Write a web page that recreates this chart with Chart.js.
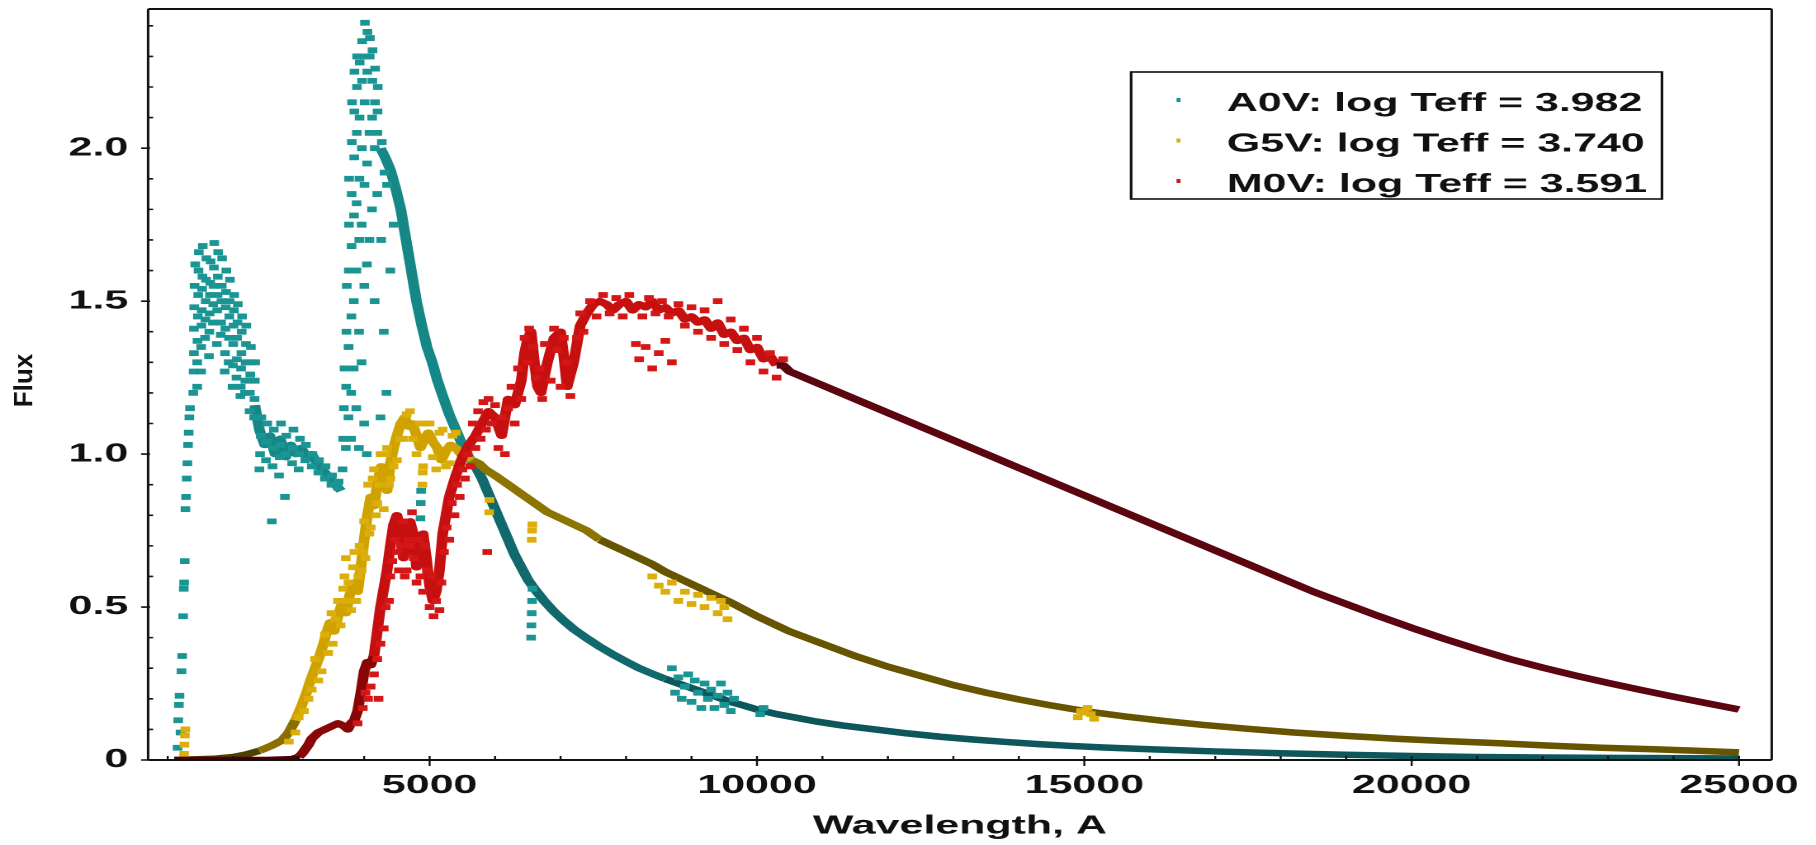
<!DOCTYPE html>
<html>
<head>
<meta charset="utf-8">
<title>Stellar spectra: A0V, G5V, M0V</title>
<script src="https://cdn.jsdelivr.net/npm/chart.js@4.4.1/dist/chart.umd.min.js"></script>
<style>
  html, body { margin: 0; padding: 0; background: #fff; overflow: hidden; }
  /* the chart is laid out 1100px wide and stretched sideways to 1816px */
  #wrap { width: 1100px; height: 845px; transform: scaleX(1.650909); transform-origin: 0 0; }
</style>
</head>
<body>
<div id="wrap"><canvas id="chart"></canvas></div>
<script>
const SX = 1816 / 1100;

// axes
const xTicks = [5000, 10000, 15000, 20000, 25000];
const yTicks = [0, 0.5, 1.0, 1.5, 2.0];
const xTitle = 'Wavelength, A';
const yTitle = 'Flux';
const starLabels = ['A0V: log Teff = 3.982', 'G5V: log Teff = 3.740', 'M0V: log Teff = 3.591'];

// A0V: dense trace of the continuum (null breaks the line over the Balmer jump)
const a0vTrace = [
  [2330,1.16],[2400,1.08],[2480,1.03],[2560,1.06],[2640,1.0],[2720,1.05],[2800,0.99],[2880,1.03],
  [2960,1.0],[3040,1.02],[3120,0.99],[3200,1.0],[3280,0.97],[3360,0.95],[3440,0.93],[3520,0.91],
  [3600,0.89],[3650,0.88],[3660,null],
  [4250,2.0],[4320,1.97],[4400,1.93],[4480,1.87],[4560,1.8],[4640,1.7],[4720,1.6],[4800,1.5],
  [4880,1.42],[4960,1.35],[5040,1.3],[5120,1.24],[5200,1.19],[5300,1.13],[5400,1.08],[5500,1.03],
  [5600,0.99],[5700,0.96],[5800,0.92],[5900,0.87],[6000,0.82],[6100,0.77],[6200,0.72],[6300,0.67],
  [6400,0.63],[6500,0.59],[6600,0.56],[6750,0.52],[6900,0.485],[7050,0.455],[7200,0.428],[7400,0.398],
  [7600,0.37],[7800,0.345],[8000,0.322],[8200,0.3],[8400,0.282],[8600,0.265],[8800,0.25],[9000,0.235],
  [9200,0.22],[9400,0.205],[9600,0.19],[9800,0.178],[10000,0.165],[10300,0.15],[10600,0.138],
  [10900,0.126],[11300,0.113],[11800,0.1],[12300,0.087],[12800,0.076],[13300,0.067],[13800,0.059],
  [14300,0.052],[14800,0.046],[15300,0.041],[16000,0.035],[17000,0.028],[18000,0.022],[19000,0.017],
  [20000,0.013],[21000,0.01],[22000,0.008],[23000,0.007],[24000,0.006],[25000,0.005]
];

// A0V: scattered samples (UV rise, UV bump, Balmer lines)
const a0vPoints = [
  [1150,0.04],[1160,0.13],[1170,0.18],[1180,0.21],[1195,0.09],[1210,0.29],[1220,0.34],[1235,0.47],
  [1245,0.56],[1250,0.58],[1260,0.65],[1270,0.82],[1280,0.86],[1290,0.92],[1300,0.97],[1310,1.03],
  [1320,1.07],[1330,1.12],[1340,1.15],
  [1390,1.2],[1395,1.27],[1400,1.33],[1400,1.41],[1405,1.48],[1410,1.55],[1420,1.62],
  [1450,1.22],[1450,1.3],[1455,1.37],[1460,1.45],[1465,1.52],[1470,1.6],[1475,1.66],
  [1510,1.27],[1510,1.35],[1515,1.42],[1520,1.47],[1525,1.54],[1530,1.58],[1535,1.68],
  [1570,1.38],[1575,1.44],[1580,1.5],[1585,1.57],[1590,1.64],
  [1630,1.32],[1635,1.4],[1640,1.46],[1645,1.52],[1650,1.56],[1655,1.63],
  [1690,1.43],[1695,1.49],[1700,1.55],[1705,1.61],[1710,1.69],
  [1750,1.36],[1755,1.47],[1760,1.52],[1765,1.58],[1770,1.66],
  [1810,1.39],[1815,1.43],[1820,1.5],[1825,1.55],[1830,1.64],
  [1870,1.27],[1875,1.33],[1880,1.41],[1885,1.48],[1890,1.53],[1895,1.6],
  [1930,1.3],[1935,1.38],[1940,1.45],[1945,1.5],[1950,1.57],
  [1990,1.22],[1995,1.29],[2000,1.36],[2005,1.42],[2010,1.47],[2015,1.52],
  [2050,1.25],[2055,1.31],[2060,1.38],[2065,1.43],[2070,1.49],
  [2110,1.19],[2115,1.22],[2120,1.28],[2125,1.33],[2130,1.4],[2135,1.45],
  [2180,1.2],[2185,1.24],[2190,1.3],[2195,1.36],[2200,1.42],
  [2250,1.14],[2255,1.2],[2260,1.26],[2265,1.3],[2270,1.35],
  [2320,1.12],[2325,1.18],[2330,1.24],[2335,1.3],
  [2400,0.95],[2410,1.0],[2420,1.06],[2430,1.12],[2500,0.98],[2510,1.04],[2520,1.1],
  [2590,0.78],[2600,0.96],[2610,1.02],[2620,1.08],[2700,0.93],[2710,0.99],[2720,1.03],[2730,1.1],
  [2790,0.86],[2800,1.0],[2810,1.06],[2900,0.97],[2910,1.02],[2920,1.08],[3000,0.95],[3010,1.0],
  [3020,1.05],[3100,0.98],[3110,1.03],[3200,0.96],[3210,1.0],[3300,0.94],[3310,0.98],[3400,0.92],
  [3410,0.96],[3500,0.9],[3510,0.93],[3600,0.89],[3610,0.91],
  [3670,0.95],[3680,1.05],[3690,1.15],[3700,1.28],[3720,1.02],[3725,1.22],[3730,1.4],[3735,1.55],
  [3760,1.12],[3762,1.35],[3765,1.6],[3768,1.75],[3770,1.9],
  [3800,1.05],[3802,1.2],[3805,1.45],[3808,1.68],[3810,1.85],[3812,2.02],[3815,2.15],
  [3840,1.28],[3842,1.5],[3845,1.78],[3848,1.97],[3850,2.12],[3852,2.25],
  [3880,1.15],[3882,1.6],[3885,1.82],[3888,2.05],[3890,2.2],[3892,2.3],
  [3920,1.02],[3922,1.4],[3925,1.7],[3928,1.9],[3930,2.1],[3932,2.28],
  [3960,1.3],[3962,1.75],[3965,2.0],[3968,2.22],[3970,2.35],
  [4000,1.1],[4002,1.55],[4005,1.88],[4008,2.15],[4010,2.3],[4012,2.41],
  [4040,1.0],[4042,1.62],[4045,1.95],[4048,2.25],[4050,2.38],
  [4080,1.7],[4082,2.05],[4085,2.3],[4088,2.36],[4120,1.8],[4122,2.1],[4125,2.22],[4128,2.32],
  [4160,1.5],[4162,2.0],[4165,2.15],[4168,2.26],[4200,1.85],[4202,2.05],[4205,2.12],[4208,2.2],
  [4250,1.12],[4260,1.7],[4270,2.02],[4300,1.4],[4310,1.92],[4340,1.2],[4350,1.88],
  [4400,1.6],[4450,1.75],
  [4860,0.79],[4865,0.84],[4870,0.88],
  [6550,0.4],[6555,0.44],[6560,0.48],[6565,0.52],[6570,0.56],
  [8700,0.3],[8750,0.22],[8800,0.27],[8850,0.2],[8900,0.24],[8950,0.28],[9000,0.19],[9050,0.26],
  [9100,0.22],[9150,0.17],[9200,0.25],[9250,0.2],[9300,0.23],[9350,0.17],[9400,0.21],[9450,0.25],
  [9500,0.18],[9550,0.22],[9600,0.16],[9650,0.2],[10050,0.15],[10100,0.17]
];

// G5V
const g5vTrace = [
  [1100,0.0],[1400,0.002],[1700,0.004],[2000,0.01],[2200,0.018],[2400,0.03],[2600,0.048],[2750,0.065],
  [2850,0.09],[2950,0.13],[3050,0.18],[3120,0.22],[3180,0.26],[3250,0.3],[3320,0.34],[3380,0.38],
  [3430,0.42],[3480,0.45],[3540,0.42],[3600,0.47],[3660,0.51],[3720,0.48],[3780,0.54],[3840,0.58],
  [3900,0.55],[3950,0.63],[4000,0.72],[4050,0.8],[4100,0.86],[4150,0.83],[4200,0.9],[4260,0.96],
  [4300,0.92],[4350,0.88],[4400,0.97],[4450,1.02],[4500,1.06],[4560,1.1],[4620,1.12],[4680,1.09],
  [4740,1.1],[4800,1.06],[4860,1.02],[4920,1.05],[4980,1.07],[5050,1.04],[5120,1.02],[5180,0.98],
  [5250,1.01],[5320,1.03],[5400,1.02],[5480,1.0],[5560,0.99],[5650,0.98],[5750,0.97],[5850,0.95],
  [6000,0.93],[6200,0.9],[6400,0.87],[6600,0.84],[6800,0.81],[7000,0.79],[7200,0.77],[7400,0.75],
  [7600,0.72],[7800,0.7],[8000,0.68],[8200,0.66],[8400,0.64],[8600,0.615],[8800,0.595],[9000,0.575],
  [9300,0.545],[9600,0.515],[10000,0.47],[10500,0.42],[11000,0.38],[11500,0.34],[12000,0.305],
  [12500,0.275],[13000,0.245],[13500,0.22],[14000,0.198],[14500,0.178],[15000,0.16],[15600,0.143],
  [16200,0.128],[16800,0.115],[17500,0.102],[18200,0.09],[19000,0.079],[19800,0.069],[20500,0.062],
  [21300,0.055],[22100,0.047],[22900,0.04],[23700,0.035],[24400,0.03],[25000,0.025]
];

const g5vPoints = [
  [1250,0.02],[1255,0.05],[1262,0.08],[1270,0.1],
  [2850,0.06],[2950,0.09],[3000,0.14],[3080,0.16],[3150,0.2],[3200,0.23],[3250,0.33],[3300,0.26],
  [3350,0.29],[3400,0.41],[3450,0.35],[3500,0.48],[3520,0.38],[3560,0.46],[3600,0.52],[3640,0.44],
  [3680,0.56],[3700,0.6],[3720,0.66],[3740,0.52],[3760,0.58],[3800,0.49],[3830,0.63],[3850,0.68],
  [3880,0.52],[3910,0.6],[3930,0.7],[3960,0.62],[3990,0.68],[4000,0.78],[4020,0.66],[4060,0.9],
  [4080,0.74],[4100,0.76],[4130,0.92],[4150,0.95],[4180,0.8],[4200,0.84],[4230,0.9],[4250,1.0],
  [4300,0.82],[4330,1.0],[4350,1.02],[4380,0.9],[4400,0.92],[4450,0.96],[4500,0.98],[4550,1.05],
  [4600,1.05],[4650,1.13],[4700,1.14],[4750,1.05],[4800,1.0],[4850,1.1],[4890,0.9],[4895,0.94],
  [4900,0.96],[4950,1.1],[5000,1.1],[5050,0.99],[5100,0.95],[5150,1.07],[5200,1.08],[5250,0.96],
  [5300,0.97],[5350,1.06],[5400,1.07],[5450,0.97],[5500,0.95],[5910,0.81],[5915,0.85],
  [6560,0.72],[6565,0.75],[6570,0.77],
  [8400,0.6],[8500,0.57],[8600,0.55],[8700,0.58],[8800,0.52],[8900,0.55],[9000,0.51],[9100,0.54],
  [9200,0.5],[9300,0.53],[9400,0.48],[9450,0.52],[9500,0.5],[9550,0.46],
  [14900,0.14],[14950,0.16],[15000,0.155],[15050,0.17],[15100,0.15],[15150,0.135]
];

// M0V
const m0vTrace = [
  [1100,0.0],[1500,0.0],[2000,0.0],[2500,0.0],[2900,0.003],[3000,0.01],[3050,0.02],[3100,0.035],
  [3150,0.05],[3200,0.07],[3300,0.09],[3400,0.1],[3500,0.11],[3600,0.12],[3700,0.11],[3750,0.1],
  [3800,0.12],[3850,0.13],[3900,0.16],[3950,0.22],[4000,0.29],[4050,0.32],[4100,0.31],[4150,0.34],
  [4200,0.42],[4250,0.5],[4300,0.56],[4350,0.62],[4400,0.7],[4450,0.77],[4500,0.8],[4550,0.76],
  [4600,0.66],[4650,0.7],[4700,0.78],[4750,0.74],[4800,0.63],[4850,0.67],[4900,0.74],[4950,0.66],
  [5000,0.57],[5050,0.52],[5100,0.55],[5150,0.62],[5200,0.74],[5250,0.8],[5300,0.86],[5400,0.93],
  [5500,0.99],[5600,1.03],[5700,1.06],[5800,1.1],[5900,1.14],[6000,1.12],[6100,1.06],[6150,1.12],
  [6200,1.18],[6300,1.16],[6400,1.24],[6450,1.33],[6500,1.38],[6550,1.4],[6600,1.3],[6650,1.22],
  [6700,1.2],[6800,1.3],[6900,1.38],[7000,1.4],[7050,1.32],[7100,1.22],[7200,1.3],[7300,1.42],
  [7400,1.46],[7500,1.49],[7600,1.5],[7700,1.49],[7800,1.47],[7900,1.49],[8000,1.5],[8100,1.47],
  [8200,1.49],[8300,1.48],[8400,1.5],[8500,1.47],[8600,1.48],[8700,1.46],[8800,1.47],[8900,1.44],
  [9000,1.45],[9100,1.43],[9200,1.44],[9300,1.41],[9400,1.43],[9500,1.39],[9600,1.4],[9700,1.37],
  [9800,1.38],[9900,1.34],[10000,1.35],[10100,1.31],[10200,1.32],[10300,1.29],[10400,1.29],
  [10500,1.27],[11000,1.225],[11500,1.18],[12000,1.135],[12500,1.09],[13000,1.045],[13500,1.0],
  [14000,0.955],[14500,0.91],[15000,0.865],[15500,0.82],[16000,0.775],[16500,0.73],[17000,0.685],
  [17500,0.64],[18000,0.595],[18500,0.55],[19000,0.51],[19500,0.47],[20000,0.432],[20500,0.396],
  [21000,0.362],[21500,0.33],[22000,0.302],[22500,0.276],[23000,0.252],[23500,0.229],[24000,0.207],
  [24500,0.186],[25000,0.165]
];

const m0vPoints = [
  [3900,0.12],[3980,0.17],[4020,0.22],[4060,0.2],[4100,0.24],[4150,0.28],[4200,0.33],[4220,0.2],
  [4250,0.38],[4300,0.43],[4330,0.5],[4380,0.52],[4400,0.6],[4430,0.65],[4470,0.72],[4500,0.68],
  [4530,0.62],[4560,0.7],[4600,0.78],[4620,0.6],[4650,0.62],[4680,0.72],[4700,0.7],[4730,0.81],
  [4760,0.66],[4800,0.58],[4830,0.72],[4860,0.6],[4900,0.55],[4930,0.7],[4960,0.62],[5000,0.5],
  [5030,0.6],[5060,0.47],[5100,0.52],[5150,0.49],[5180,0.58],[5220,0.68],[5260,0.76],[5300,0.72],
  [5340,0.84],[5380,0.8],[5420,0.9],[5460,0.86],[5500,0.95],[5540,0.92],[5580,1.0],[5620,0.96],
  [5660,1.1],[5700,1.02],[5740,1.14],[5780,1.05],[5820,1.17],[5860,1.08],[5880,0.68],[5900,1.18],
  [5950,1.1],[6000,1.16],[6050,1.02],[6100,1.12],[6150,1.0],[6200,1.15],[6250,1.22],[6300,1.1],
  [6350,1.28],[6400,1.18],[6450,1.38],[6500,1.3],[6520,1.41],[6580,1.35],[6620,1.25],[6680,1.28],
  [6720,1.18],[6760,1.36],[6850,1.24],[6900,1.41],[6950,1.34],[7000,1.22],[7050,1.38],[7100,1.3],
  [7150,1.19],[7250,1.38],[7300,1.46],[7350,1.4],[7450,1.5],[7550,1.45],[7650,1.52],[7750,1.46],
  [7850,1.51],[7950,1.45],[8050,1.52],[8150,1.36],[8200,1.31],[8250,1.45],[8300,1.35],[8350,1.51],
  [8400,1.28],[8450,1.46],[8500,1.33],[8550,1.5],[8600,1.37],[8650,1.45],[8700,1.3],[8800,1.49],
  [8900,1.42],[9000,1.48],[9100,1.4],[9200,1.47],[9300,1.38],[9400,1.5],[9500,1.36],[9600,1.44],
  [9700,1.34],[9800,1.41],[9900,1.3],[10000,1.38],[10100,1.27],[10200,1.33],[10300,1.25],[10400,1.31]
];

// colours: dot fill, and trace colour from a given wavelength onwards
const a0vStyle = { dot: '#1b9494', shades: [[0, '#168787'], [5600, '#11696d'], [8500, '#0d565b']] };
const g5vStyle = { dot: '#dbae0a', shades: [[0, '#4e4000'], [2300, '#8a6f00'], [2900, '#cfa200'], [5600, '#8c7400'], [7500, '#675400']] };
const m0vStyle = { dot: '#d41616', shades: [[0, '#470008'], [3000, '#8a0606'], [4150, '#c60f0f'], [10300, '#5a0510']] };

const FONT = '"Liberation Sans", Arial, sans-serif';

const toXY = arr => arr.map(([x, y]) => ({ x, y }));

function shadeAt(shades, x) {
  let c = shades[0][1];
  for (const [from, col] of shades) if (x >= from) c = col;
  return c;
}

function traceSet(data, st, order) {
  return {
    data: toXY(data), showLine: true, spanGaps: false, pointRadius: 0, pointHitRadius: 0,
    borderWidth: 6.5, borderJoinStyle: 'round', borderColor: st.shades[0][1], order,
    segment: { borderColor: ctx => shadeAt(st.shades, ctx.p0.parsed.x) }
  };
}

function dotSet(data, st, order) {
  return {
    data: toXY(data), showLine: false, pointStyle: 'rect', pointRadius: 4.1, pointBorderWidth: 0,
    backgroundColor: st.dot, borderColor: st.dot, order
  };
}

// box, inward minor ticks, crossing major ticks and the vertical axis name
const frame = {
  id: 'frame',
  afterDatasetsDraw(chart) {
    const { ctx, chartArea: a, scales: { x, y } } = chart;
    ctx.save();
    ctx.strokeStyle = '#111';
    ctx.lineWidth = 2;
    ctx.beginPath();
    ctx.moveTo(a.left, a.top); ctx.lineTo(a.right, a.top);
    ctx.moveTo(a.left, a.bottom); ctx.lineTo(a.right, a.bottom);
    ctx.stroke();
    ctx.lineWidth = 1.5;
    ctx.beginPath();
    ctx.moveTo(a.left, a.top); ctx.lineTo(a.left, a.bottom);
    ctx.moveTo(a.right, a.top); ctx.lineTo(a.right, a.bottom);
    ctx.stroke();

    ctx.lineWidth = 1.2;
    ctx.beginPath();
    for (let v = 1000; v <= 25000; v += 1000) {
      const px = x.getPixelForValue(v);
      const major = xTicks.includes(v);
      ctx.moveTo(px, a.bottom - 4);
      ctx.lineTo(px, a.bottom + (major ? 6 : 0));
    }
    ctx.stroke();

    ctx.lineWidth = 1.6;
    ctx.beginPath();
    for (let i = 1; i <= 24; i++) {
      const v = i / 10;
      const py = y.getPixelForValue(v);
      const major = i % 5 === 0;
      ctx.moveTo(a.left - (major ? 7 / SX : 0), py);
      ctx.lineTo(a.left + (major ? 2 : 5) / SX, py);
    }
    ctx.moveTo(a.left - 7 / SX, a.bottom);
    ctx.lineTo(a.left, a.bottom);
    ctx.stroke();

    // rotated axis name, kept at its natural proportions despite the sideways stretch
    ctx.translate(15.4, (a.top + a.bottom) / 2 - 4);
    ctx.scale(1 / SX, 1);
    ctx.rotate(-Math.PI / 2);
    ctx.font = 'bold 26px ' + FONT;
    ctx.fillStyle = '#111';
    ctx.textAlign = 'center';
    ctx.textBaseline = 'middle';
    ctx.fillText(yTitle, 0, 0);
    ctx.restore();
  }
};

// boxed key in the upper right of the plot
const starKey = {
  id: 'starKey',
  afterDraw(chart) {
    const { ctx, chartArea: a } = chart;
    const dots = [a0vStyle.dot, g5vStyle.dot, m0vStyle.dot];
    ctx.save();
    ctx.font = 'bold 26px ' + FONT;
    const textW = Math.max(...starLabels.map(t => ctx.measureText(t).width));
    const boxW = textW + 58 + 9;
    const boxH = 127;
    const boxRight = a.right - 66.5;
    const boxLeft = boxRight - boxW;
    const boxTop = a.top + 63;
    ctx.fillStyle = '#fff';
    ctx.fillRect(boxLeft, boxTop, boxW, boxH);
    ctx.strokeStyle = '#111';
    ctx.lineWidth = 1.6;
    ctx.strokeRect(boxLeft, boxTop, boxW, boxH);
    ctx.textBaseline = 'middle';
    starLabels.forEach((t, i) => {
      const cy = boxTop + 31 + i * 40.5;
      ctx.fillStyle = dots[i];
      ctx.fillRect(boxLeft + 27.5, cy - 5, 2.4, 4);
      ctx.fillStyle = '#111';
      ctx.fillText(t, boxLeft + 58, cy + 1);
    });
    ctx.restore();
  }
};

Chart.defaults.font.family = FONT;
Chart.defaults.color = '#111';

new Chart(document.getElementById('chart'), {
  type: 'scatter',
  data: {
    datasets: [
      dotSet(m0vPoints, m0vStyle, 0),
      traceSet(m0vTrace, m0vStyle, 1),
      dotSet(g5vPoints, g5vStyle, 2),
      traceSet(g5vTrace, g5vStyle, 3),
      dotSet(a0vPoints, a0vStyle, 4),
      traceSet(a0vTrace, a0vStyle, 5)
    ]
  },
  options: {
    responsive: true,
    maintainAspectRatio: false,
    animation: false,
    devicePixelRatio: 2,
    events: [],
    layout: { padding: { left: 0, right: 24.4, top: 0, bottom: 0 } },
    plugins: { legend: { display: false }, tooltip: { enabled: false } },
    scales: {
      x: {
        type: 'linear', min: 700, max: 25500,
        afterBuildTicks: s => { s.ticks = xTicks.map(v => ({ value: v })); },
        afterFit: s => { s.height = 85; },
        grid: { display: false, drawTicks: false },
        border: { display: false },
        ticks: { padding: 10, maxRotation: 0, autoSkip: false, font: { size: 26, weight: 'bold' }, callback: v => String(v) },
        title: { display: true, text: xTitle, font: { size: 26, weight: 'bold' }, padding: { top: 0, bottom: 3 } }
      },
      y: {
        type: 'linear', min: 0, max: 2.455,
        afterBuildTicks: s => { s.ticks = yTicks.map(v => ({ value: v })); },
        afterFit: s => { s.width = 89.7; s.paddingTop = 9; s.paddingBottom = 0; },
        grid: { display: false, drawTicks: false },
        border: { display: false },
        ticks: { padding: 12, font: { size: 26, weight: 'bold' }, callback: v => (v === 0 ? '0' : v.toFixed(1)) },
        title: { display: false }
      }
    }
  },
  plugins: [frame, starKey]
});
</script>
</body>
</html>
